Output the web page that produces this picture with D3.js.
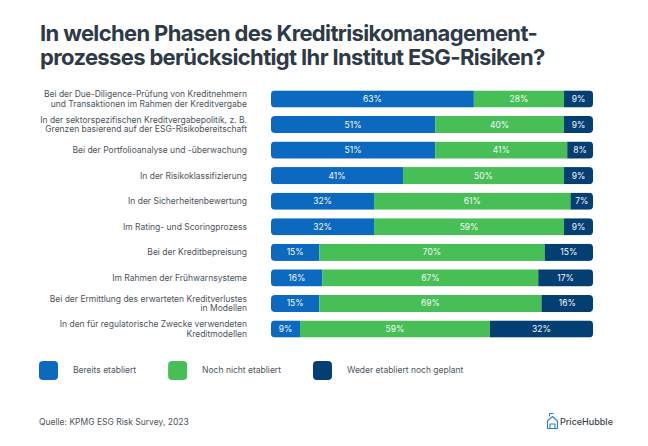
<!DOCTYPE html>
<html><head><meta charset="utf-8">
<script src="https://cdn.jsdelivr.net/npm/d3@7"></script>
<style>body{margin:0;background:#fff}svg{display:block}text{font-family:Inter,"Noto Sans",sans-serif}</style>
</head><body><svg id="c" width="648" height="446"></svg>
<script>
const titleLines = ["In welchen Phasen des Kreditrisikomanagement-", "prozesses berücksichtigt Ihr Institut ESG-Risiken?"];
const categories = [
  "Bei der Due-Diligence-Prüfung von Kreditnehmern\nund Transaktionen im Rahmen der Kreditvergabe",
  "In der sektorspezifischen Kreditvergabepolitik, z. B.\nGrenzen basierend auf der ESG-Risikobereitschaft",
  "Bei der Portfolioanalyse und -überwachung",
  "In der Risikoklassifizierung",
  "In der Sicherheitenbewertung",
  "Im Rating- und Scoringprozess",
  "Bei der Kreditbepreisung",
  "Im Rahmen der Frühwarnsysteme",
  "Bei der Ermittlung des erwarteten Kreditverlustes\nin Modellen",
  "In den für regulatorische Zwecke verwendeten\nKreditmodellen"
];
const bereitsEtabliert = [63, 51, 51, 41, 32, 32, 15, 16, 15, 9];
const nochNichtEtabliert = [28, 40, 41, 50, 61, 59, 70, 67, 69, 59];
const wederNochGeplant = [9, 9, 8, 9, 7, 9, 15, 17, 16, 32];
const seriesNames = ["Bereits etabliert", "Noch nicht etabliert", "Weder etabliert noch geplant"];
const colors = ["#0b69bf", "#47bf56", "#043f74"];
const sourceText = "Quelle: KPMG ESG Risk Survey, 2023";
const brand = "PriceHubble";

const svg = d3.select("#c");
const data = categories.map((c, i) => ({cat: c, values: [bereitsEtabliert[i], nochNichtEtabliert[i], wederNochGeplant[i]]}));

// title
const title = svg.append("text").attr("fill", "#2e3a46")
  .attr("font-size", 22).attr("font-weight", 700).attr("letter-spacing", -0.65);
title.selectAll("tspan").data(titleLines).join("tspan")
  .attr("x", 40).attr("y", (d, i) => 40.5 + i * 24.3).text(d => d);

const x = d3.scaleLinear().domain([0, 100]).range([271, 593]);
const y = d3.scaleBand().domain(d3.range(categories.length)).range([86.2, 341.8]).paddingInner(0.33).paddingOuter(0.165);

const defs = svg.append("defs");
data.forEach((d, i) => {
  defs.append("clipPath").attr("id", "clip" + i).append("rect")
    .attr("x", x(0)).attr("y", y(i)).attr("width", x(100) - x(0)).attr("height", y.bandwidth()).attr("rx", 4);
});

const rows = svg.append("g").selectAll("g").data(data).join("g");
rows.each(function(d, i) {
  const g = d3.select(this);
  let cum = 0;
  const segs = d.values.map((v, k) => { const s = {k, v, x0: cum, x1: cum + v}; cum += v; return s; });
  const sg = g.append("g").attr("clip-path", `url(#clip${i})`);
  sg.selectAll("rect").data(segs).join("rect")
    .attr("x", s => x(s.x0)).attr("y", y(i)).attr("width", s => x(s.x1) - x(s.x0)).attr("height", y.bandwidth())
    .attr("fill", s => colors[s.k]);
  g.selectAll("text.v").data(segs).join("text").attr("class", "v")
    .attr("x", s => (x(s.x0) + x(s.x1)) / 2).attr("y", y(i) + y.bandwidth() / 2)
    .attr("dy", "0.35em").attr("text-anchor", "middle").attr("fill", "#f4f8fc")
    .attr("font-size", 8.5).text(s => s.v + "%");
  const lines = d.cat.split("\n");
  const t = g.append("text").attr("text-anchor", "end").attr("fill", "#4d555d").attr("font-size", 8.5);
  t.selectAll("tspan").data(lines).join("tspan")
    .attr("x", 247).attr("y", (l, j) => y(i) + y.bandwidth() / 2 + (j - (lines.length - 1) / 2) * 9.6)
    .attr("dy", "0.35em").text(l => l);
});

// legend
const leg = svg.append("g");
let lx = 39;
seriesNames.forEach((n, k) => {
  leg.append("rect").attr("x", lx).attr("y", 361).attr("width", 19).attr("height", 19).attr("rx", 4).attr("fill", colors[k]);
  const t = leg.append("text").attr("x", lx + 34).attr("y", 370.5).attr("dy", "0.35em").attr("fill", "#4d555d").attr("font-size", 8.5).text(n);
  lx += 34 + t.node().getComputedTextLength() + 32;
});

// source
svg.append("text").attr("x", 39).attr("y", 421.7).attr("dy", "0.35em").attr("fill", "#4d555d").attr("font-size", 8.5).text(sourceText);

// logo
const logo = svg.append("g").attr("fill", "none").attr("stroke", "#2a7fd4").attr("stroke-width", 1.1).attr("stroke-linejoin", "round");
logo.append("path").attr("d", "M547.5,421 L547.5,428.5 L557.5,428.5 L557.5,421 L552.5,416.5 Z");
logo.append("path").attr("d", "M549.5,416.5 L549.5,413.5 L553.5,413.5");
logo.append("path").attr("d", "M550,428.5 L550,424 L555,424 L555,428.5");
svg.append("text").attr("x", 560).attr("y", 421.7).attr("dy", "0.35em").attr("fill", "#3a434d").attr("font-size", 9).attr("font-weight", 500).text(brand);
</script></body></html>
